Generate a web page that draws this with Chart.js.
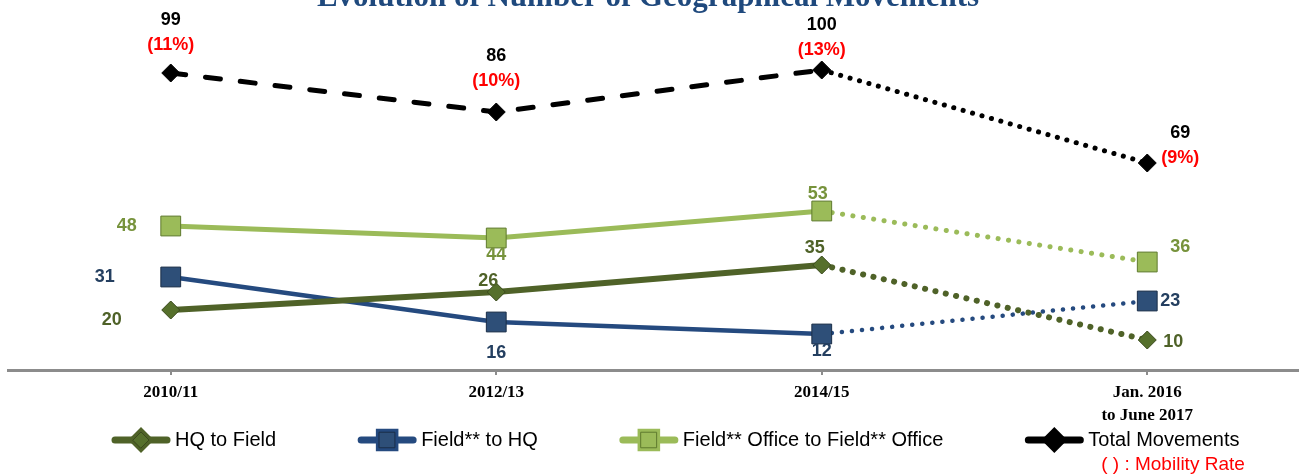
<!DOCTYPE html>
<html>
<head>
<meta charset="utf-8">
<script src="https://cdn.jsdelivr.net/npm/chart.js@4"></script>
<style>
html, body { margin: 0; padding: 0; background: #fff; overflow: hidden; }
#wrap { width: 1310px; height: 475px; }
</style>
</head>
<body>
<div id="wrap"><canvas id="myChart"></canvas></div>
<script>
var categories = ['2010/11', '2012/13', '2014/15', ['Jan. 2016', 'to June 2017']];
var hqToField = [20, 26, 35, 10];
var fieldToHq = [31, 16, 12, 23];
var officeToOffice = [48, 44, 53, 36];
var totalMoves = [99, 86, 100, 69];
var mobilityRate = ['(11%)', '(10%)', '(13%)', '(9%)'];
var seriesNames = ['HQ to Field', 'Field** to HQ', 'Field** Office to Field** Office', 'Total Movements'];

// where each value label sits relative to its point (dx, dy)
var labelOffsets = [
    [[-59, 10], [-8, -11], [-7, -17], [26, 2]],
    [[-66, 0], [0, 31], [0, 17], [23, 0]],
    [[-44, 0], [0, 17], [-4, -17], [33, -15]],
    [[0, -53], [0, -56], [0, -45], [33, -30]]
];
var labelColors = ['#4F6228', '#243F60', '#77933C', '#000000'];

// last segment (to 2016-17) is dotted
function lastDotted(gap) {
    return function (ctx) {
        return ctx.p0DataIndex === 2 ? [0.1, gap] : undefined;
    };
}

var extraText = {
    id: 'extraText',
    afterDraw: function (chart) {
        var ctx = chart.ctx;
        ctx.save();

        // title (cut at the top like the original)
        ctx.font = 'bold 31px "Liberation Serif"';
        ctx.fillStyle = '#1F497D';
        ctx.textAlign = 'center';
        ctx.textBaseline = 'alphabetic';
        ctx.fillText('Evolution of Number of Geographical Movements', 648, 6);

        // value labels
        ctx.font = 'bold 18px "Liberation Sans"';
        ctx.textBaseline = 'middle';
        chart.data.datasets.forEach(function (ds, i) {
            var meta = chart.getDatasetMeta(i);
            meta.data.forEach(function (pt, j) {
                var off = labelOffsets[i][j];
                ctx.fillStyle = labelColors[i];
                ctx.fillText(ds.data[j], pt.x + off[0], pt.y + off[1]);
                if (i === 3) {
                    ctx.fillStyle = '#FF0000';
                    ctx.fillText(mobilityRate[j], pt.x + off[0], pt.y + off[1] + 25);
                }
            });
        });

        // legend
        ctx.font = '20px "Liberation Sans"';
        ctx.textAlign = 'left';
        var x = 112, y = 440;
        chart.data.datasets.forEach(function (ds, i) {
            ctx.strokeStyle = ds.borderColor;
            ctx.lineWidth = 7;
            ctx.lineCap = 'round';
            ctx.setLineDash([]);
            ctx.beginPath();
            ctx.moveTo(x + 3, y);
            ctx.lineTo(x + 55, y);
            ctx.stroke();
            Chart.helpers.drawPoint(ctx, {
                pointStyle: ds.pointStyle,
                radius: ds.pointStyle === 'rect' ? 11 : 8,
                rotation: 0,
                borderWidth: 1
            }, x + 29, y);
            ctx.fillStyle = ds.pointBackgroundColor;
            ctx.strokeStyle = ds.pointBorderColor;
            ctx.lineWidth = 1;
            ctx.fill();
            ctx.stroke();
            ctx.fillStyle = '#000';
            ctx.fillText(ds.label, x + 63, y);
            x += 63 + ctx.measureText(ds.label).width + 82;
        });

        ctx.fillStyle = '#FF0000';
        ctx.font = '19px "Liberation Sans"';
        ctx.textAlign = 'center';
        ctx.fillText('( ) : Mobility Rate', 1173, 465);
        ctx.restore();
    }
};

new Chart('myChart', {
    type: 'line',
    data: {
        labels: categories,
        datasets: [{
            label: seriesNames[0],
            data: hqToField,
            borderColor: '#4F6228',
            borderWidth: 6,
            borderCapStyle: 'round',
            pointStyle: 'rectRot',
            pointRadius: 9,
            pointBackgroundColor: '#56702C',
            pointBorderColor: '#3A4A1C',
            pointBorderWidth: 1,
            segment: { borderDash: lastDotted(10.5) }
        }, {
            label: seriesNames[1],
            data: fieldToHq,
            borderColor: '#254A7F',
            borderWidth: 4.5,
            borderCapStyle: 'round',
            pointStyle: 'rect',
            pointRadius: 14,
            pointBackgroundColor: '#2E4F78',
            pointBorderColor: '#1A2E47',
            pointBorderWidth: 1,
            segment: { borderDash: lastDotted(10) }
        }, {
            label: seriesNames[2],
            data: officeToOffice,
            borderColor: '#9BBB59',
            borderWidth: 5,
            borderCapStyle: 'round',
            pointStyle: 'rect',
            pointRadius: 14,
            pointBackgroundColor: '#9BBB59',
            pointBorderColor: '#5F7A2E',
            pointBorderWidth: 1,
            segment: { borderDash: lastDotted(10.4) }
        }, {
            label: seriesNames[3],
            data: totalMoves,
            borderColor: '#000000',
            borderWidth: 5,
            borderCapStyle: 'round',
            borderDash: [15, 20],
            pointStyle: 'rectRot',
            pointRadius: 9,
            pointBackgroundColor: '#000000',
            pointBorderColor: '#000000',
            pointBorderWidth: 1,
            segment: { borderDash: lastDotted(9.7) }
        }]
    },
    options: {
        responsive: true,
        maintainAspectRatio: false,
        animation: false,
        layout: { autoPadding: false, padding: { top: 10, left: 8, right: 0, bottom: 0 } },
        scales: {
            x: {
                offset: true,
                grid: {
                    offset: false,
                    drawOnChartArea: false,
                    drawTicks: true,
                    tickLength: 5,
                    color: '#8C8C8C',
                    lineWidth: 2
                },
                border: { color: '#8C8C8C', width: 3 },
                ticks: {
                    color: '#000',
                    padding: 7,
                    maxRotation: 0,
                    autoSkip: false,
                    font: { family: 'Liberation Serif', weight: 'bold', size: 17, lineHeight: 1.3 }
                },
                afterFit: function (scale) { scale.height = 105; }
            },
            y: { display: false, min: 0, max: 120 }
        },
        plugins: {
            legend: { display: false },
            tooltip: { enabled: false }
        }
    },
    plugins: [extraText]
});
</script>
</body>
</html>
